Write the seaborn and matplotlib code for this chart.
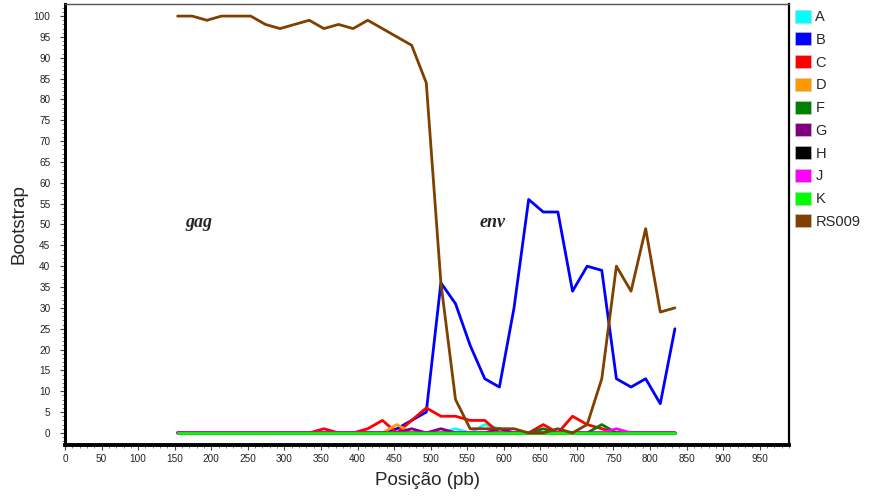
import numpy as np
import pandas as pd
import matplotlib
matplotlib.use("Agg")
import matplotlib.pyplot as plt
from matplotlib.patches import Patch
from matplotlib.ticker import MultipleLocator
import seaborn as sns

# Window midpoints (bp), step 20
positions = list(range(154, 835, 20))

subtypes = ["A", "B", "C", "D", "F", "G", "H", "J", "K", "RS009"]

A = [0]*19 + [1, 0, 2, 1] + [0]*12
B = [0]*15 + [1, 3, 5, 36, 31, 21, 13, 11, 30, 56, 53, 53, 34, 40, 39,
              13, 11, 13, 7, 25]
C = [0]*10 + [1, 0, 0, 1, 3, 0, 3, 6, 4, 4, 3, 3, 0, 0, 0, 2, 0, 4, 2, 1,
              0, 0, 0, 0, 0]
D = [0]*15 + [2] + [0]*19
F = [0]*25 + [1, 0, 0, 0, 2] + [0]*5
G = [0]*16 + [1, 0, 1, 0, 0, 0, 1] + [0]*12
H = [0]*35
J = [0]*30 + [1] + [0]*4
K = [0]*35
RS009 = [100, 100, 99, 100, 100, 100, 98, 97, 98, 99, 97, 98, 97, 99, 97,
         95, 93, 84, 36, 8, 1, 1, 1, 1, 0, 0, 1, 0, 2, 13, 40, 34, 49, 29, 30]

colors = {
    "A": "#00FFFF", "B": "#0000FF", "C": "#FF0000", "D": "#FF9900",
    "F": "#007F00", "G": "#800080", "H": "#000000", "J": "#FF00FF",
    "K": "#00FF00", "RS009": "#804000",
}

series = dict(zip(subtypes, [A, B, C, D, F, G, H, J, K, RS009]))
df = pd.concat(
    [pd.DataFrame({"pos": positions, "bootstrap": v, "subtype": s})
     for s, v in series.items()],
    ignore_index=True,
)

sns.set_style("ticks")
plt.rcParams["font.family"] = ["Liberation Sans", "DejaVu Sans"]

fig = plt.figure(figsize=(8.72, 4.97), dpi=100)
ax = fig.add_axes([65/872, 1-445/497, (789-65)/872, (445-4)/497])

sns.lineplot(data=df, x="pos", y="bootstrap", hue="subtype",
             hue_order=subtypes, palette=colors, linewidth=2,
             legend=False, ax=ax)

ax.set_xlim(0, 990)
ax.set_ylim(-2.9, 102.9)
ax.xaxis.set_major_locator(MultipleLocator(50))
ax.xaxis.set_minor_locator(MultipleLocator(10))
ax.yaxis.set_major_locator(MultipleLocator(5))
ax.yaxis.set_minor_locator(MultipleLocator(1))
ax.set_xticks(np.arange(0, 951, 50))
ax.tick_params(axis="both", which="major", labelsize=7.2, length=3.5,
               width=0.8, color="#444444", labelcolor="#222222")
ax.tick_params(axis="y", which="major", pad=7)
ax.tick_params(axis="x", which="major", pad=3)
ax.tick_params(axis="both", which="minor", length=2, width=0.6,
               color="#666666")

ax.set_xlabel("Posição (pb)", fontsize=13.5, labelpad=6)
ax.set_ylabel("Bootstrap", fontsize=13.5, labelpad=4)

for side, lw, col in [("left", 2.2, "black"), ("bottom", 2.8, "black"),
                      ("right", 1.6, "black"), ("top", 1.0, "#555555")]:
    ax.spines[side].set_visible(True)
    ax.spines[side].set_linewidth(lw)
    ax.spines[side].set_color(col)

ax.text(183, 49.3, "gag", fontsize=13, fontweight="bold",
        fontstyle="italic", family="Liberation Serif",
        ha="center", va="baseline")
ax.text(585, 49.3, "env", fontsize=13, fontweight="bold",
        fontstyle="italic", family="Liberation Serif",
        ha="center", va="baseline")

handles = [Patch(facecolor=colors[s], edgecolor="#cccccc", linewidth=0.4,
                 label=s) for s in subtypes]
fig.legend(handles=handles, loc="upper left",
           bbox_to_anchor=(795/872, 1-9.5/497), frameon=False, fontsize=10.5,
           handlelength=1.1, handleheight=1.0, handletextpad=0.3,
           labelspacing=0.565, borderpad=0, borderaxespad=0)

fig.savefig("out.png", dpi=100)
